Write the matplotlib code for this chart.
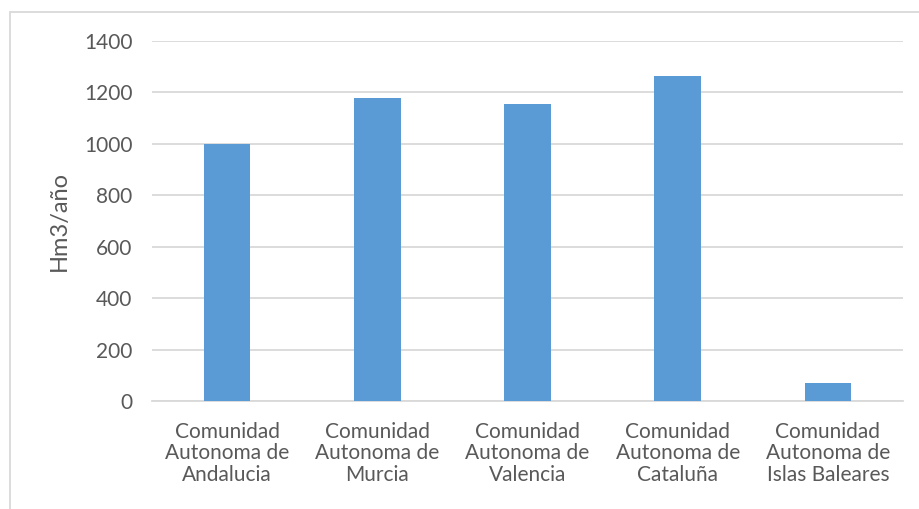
import matplotlib.pyplot as plt
from matplotlib.patches import Rectangle

# regiones y volumen (Hm3/año)
regiones = ["Comunidad\nAutonoma de\nAndalucia", "Comunidad\nAutonoma de\nMurcia",
            "Comunidad\nAutonoma de\nValencia", "Comunidad\nAutonoma de\nCataluña",
            "Comunidad\nAutonoma de\nIslas Baleares"]
volumen = [1000, 1177, 1155, 1264, 69]
yticks = [0, 200, 400, 600, 800, 1000, 1200, 1400]

texto = "#595959"
plt.rcParams["font.family"] = ["Lato", "DejaVu Sans"]

fig = plt.figure(figsize=(9.19, 5.09), dpi=100)
ax = fig.add_axes([152 / 919, 1 - 401 / 509, 751 / 919, 360 / 509])

x = range(len(regiones))
ax.bar(x, volumen, width=0.31, color="#5B9BD5", zorder=3)

ax.set_xlim(-0.5, len(regiones) - 0.5)
ax.set_ylim(0, 1400)
ax.set_yticks(yticks)
ax.set_yticklabels([str(t) for t in yticks], fontsize=15, color=texto)
ax.set_xticks(list(x))
ax.set_xticklabels(regiones, fontsize=15, color=texto, linespacing=1.1)
ax.tick_params(length=0)
ax.tick_params(axis="y", pad=14)
ax.tick_params(axis="x", pad=15)
ax.grid(axis="y", color="#D9D9D9", linewidth=1.3, zorder=0)
for s in ["top", "right", "left"]:
    ax.spines[s].set_visible(False)
ax.spines["bottom"].set_color("#D9D9D9")
ax.spines["bottom"].set_linewidth(1.3)

ax.set_ylabel("Hm3/año", fontsize=17, color=texto, labelpad=10)

# marco exterior del grafico
fig.patches.append(Rectangle((10 / 919, -0.01), 1.0, 1 - 12 / 509 + 0.01,
                             transform=fig.transFigure, fill=False,
                             edgecolor="#D9D9D9", linewidth=1.3))

fig.savefig("out.png", dpi=100)
